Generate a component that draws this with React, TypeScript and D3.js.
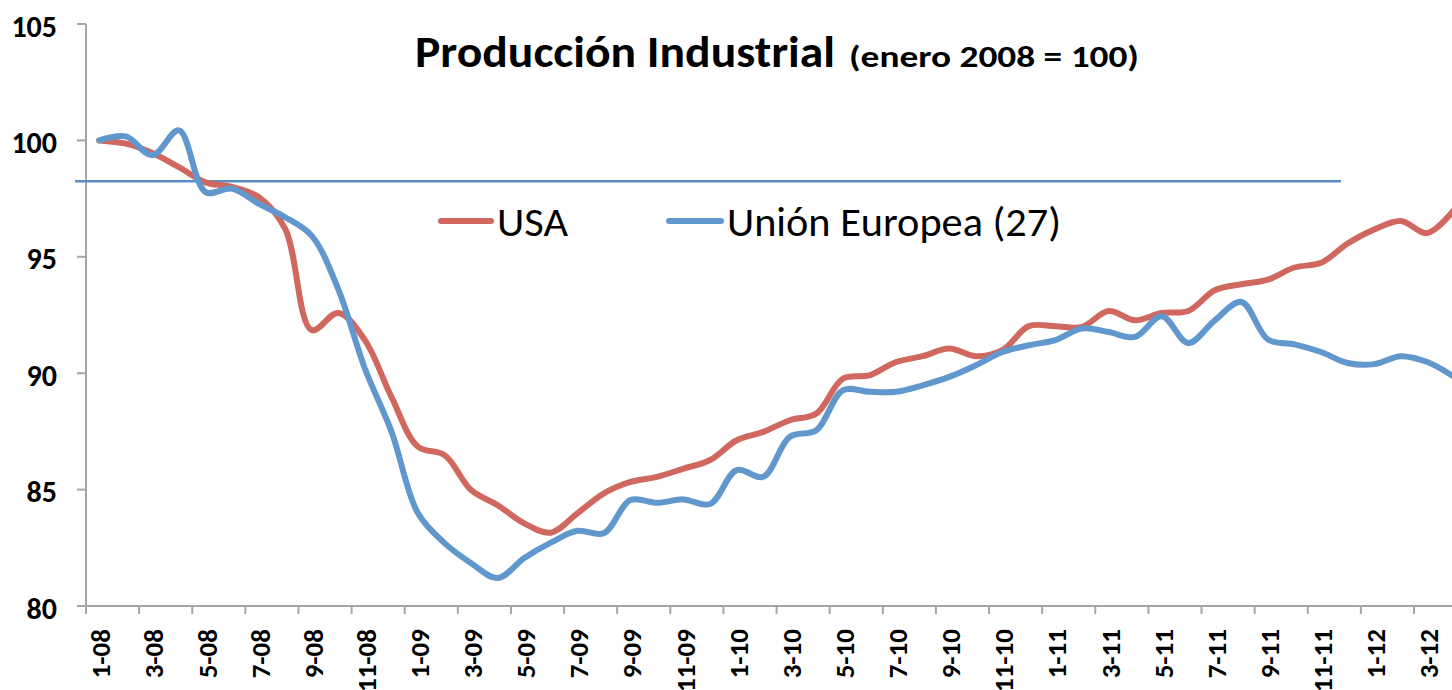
import React from "react";
import * as d3 from "d3";

// ---- data ----
const months: string[] = [
  "1-08","2-08","3-08","4-08","5-08","6-08","7-08","8-08","9-08","10-08","11-08","12-08",
  "1-09","2-09","3-09","4-09","5-09","6-09","7-09","8-09","9-09","10-09","11-09","12-09",
  "1-10","2-10","3-10","4-10","5-10","6-10","7-10","8-10","9-10","10-10","11-10","12-10",
  "1-11","2-11","3-11","4-11","5-11","6-11","7-11","8-11","9-11","10-11","11-11","12-11",
  "1-12","2-12","3-12","4-12",
];

const usa: number[] = [
  100.0, 99.86, 99.46, 98.85, 98.2, 98.0, 97.57, 96.2, 91.85, 92.59, 91.42, 88.98,
  86.84, 86.48, 84.98, 84.33, 83.55, 83.15, 83.98, 84.84, 85.33, 85.55, 85.9, 86.27,
  87.12, 87.48, 87.98, 88.27, 89.77, 89.91, 90.48, 90.73, 91.06, 90.73, 90.99, 92.02,
  92.02, 91.99, 92.67, 92.27, 92.59, 92.67, 93.56, 93.82, 94.02, 94.54, 94.74, 95.57,
  96.17, 96.54, 96.02, 97.0,
];

const eu: number[] = [
  100.0, 100.17, 99.36, 100.43, 97.78, 97.93, 97.28, 96.7, 95.9, 93.6, 90.2, 87.5,
  83.98, 82.7, 81.84, 81.2, 82.06, 82.72, 83.23, 83.13, 84.55, 84.43, 84.58, 84.38,
  85.84, 85.55, 87.27, 87.55, 89.27, 89.2, 89.2, 89.48, 89.84, 90.34, 90.91, 91.2,
  91.42, 91.92, 91.77, 91.56, 92.45, 91.3, 92.27, 93.06, 91.45, 91.24, 90.91, 90.44,
  90.39, 90.73, 90.48, 89.85,
];

const yTicks: number[] = [80, 85, 90, 95, 100, 105];
const refValue = 98.25;
const seriesNames: string[] = ["USA", "Unión Europea (27)"];
const titleMain = "Producción Industrial";
const titleSub = "(enero 2008 = 100)";

// ---- styles ----
const W = 1452;
const H = 690;
const RED = "#D0685F";
const BLUE = "#6097CD";
const AXIS = "#A6A6A6";
const FONT = "Carlito, Calibri, Lato, sans-serif";

export default function App() {
  const n = months.length;
  const catW = 26.56;
  const left = 86;
  const xb = d3.scaleLinear().domain([0, n]).range([left, left + n * catW]);
  const xc = (i: number) => xb(i + 0.5);
  const y = d3.scaleLinear().domain([80, 105]).range([606, 24]);

  const line = d3
    .line<number>()
    .x((_, i) => xc(i))
    .y((d) => y(d))
    .curve(d3.curveCatmullRom.alpha(0.5));

  const xTickIdx = d3.range(0, n + 1, 2);
  const labelIdx = d3.range(0, n, 2);

  return (
    <svg
      width={W}
      height={H}
      style={{ position: "absolute", left: 0, top: 0, background: "#fff" }}
      fontFamily={FONT}
    >
      <defs>
        <clipPath id="plot">
          <rect x={0} y={0} width={W} height={y(80)} />
        </clipPath>
      </defs>

      {/* y axis */}
      <line x1={left} x2={left} y1={y(105)} y2={y(80)} stroke={AXIS} strokeWidth={2} />
      {yTicks.map((t) => (
        <g key={t}>
          <line x1={left - 9} x2={left} y1={y(t)} y2={y(t)} stroke={AXIS} strokeWidth={2} />
          <text
            x={57}
            y={y(t) + 2}
            textAnchor="end"
            dominantBaseline="central"
            fontWeight="bold"
            fontSize={30}
            fill="#000"
          >
            {t}
          </text>
        </g>
      ))}

      {/* x axis */}
      <line x1={left - 9} x2={W} y1={y(80)} y2={y(80)} stroke={AXIS} strokeWidth={2} />
      {xTickIdx.map((i) => (
        <line key={i} x1={xb(i)} x2={xb(i)} y1={y(80)} y2={y(80) + 8} stroke={AXIS} strokeWidth={2} />
      ))}
      {labelIdx.map((i) => (
        <text
          key={i}
          transform={`translate(${xc(i) + 1.5},${y(80) + 23}) rotate(-90)`}
          textAnchor="end"
          dominantBaseline="central"
          fontWeight="bold"
          fontSize={27}
          fill="#000"
        >
          {months[i]}
        </text>
      ))}

      {/* reference line */}
      <line
        x1={xb(0) - 11}
        x2={xb(47.25)}
        y1={y(refValue)}
        y2={y(refValue)}
        stroke="#5B8EC6"
        strokeWidth={2.5}
      />

      {/* series */}
      <g clipPath="url(#plot)">
        <path d={line(usa) || ""} fill="none" stroke={RED} strokeWidth={6} strokeLinecap="round" strokeLinejoin="round" />
        <path d={line(eu) || ""} fill="none" stroke={BLUE} strokeWidth={6} strokeLinecap="round" strokeLinejoin="round" />
      </g>

      {/* title */}
      <text y={67} fontWeight="bold" fill="#000">
        <tspan x={415} fontSize={45} textLength={420} lengthAdjust="spacingAndGlyphs">
          {titleMain}
        </tspan>
        <tspan x={849} fontSize={31} textLength={290} lengthAdjust="spacingAndGlyphs">
          {titleSub}
        </tspan>
      </text>

      {/* legend */}
      <line x1={441} x2={491} y1={221} y2={221} stroke={RED} strokeWidth={6} strokeLinecap="round" />
      <text x={497} y={236} fontSize={42} fill="#000" textLength={71} lengthAdjust="spacingAndGlyphs">
        {seriesNames[0]}
      </text>
      <line x1={669} x2={721} y1={221} y2={221} stroke={BLUE} strokeWidth={6} strokeLinecap="round" />
      <text x={727} y={236} fontSize={42} fill="#000" textLength={334} lengthAdjust="spacingAndGlyphs">
        {seriesNames[1]}
      </text>
    </svg>
  );
}
